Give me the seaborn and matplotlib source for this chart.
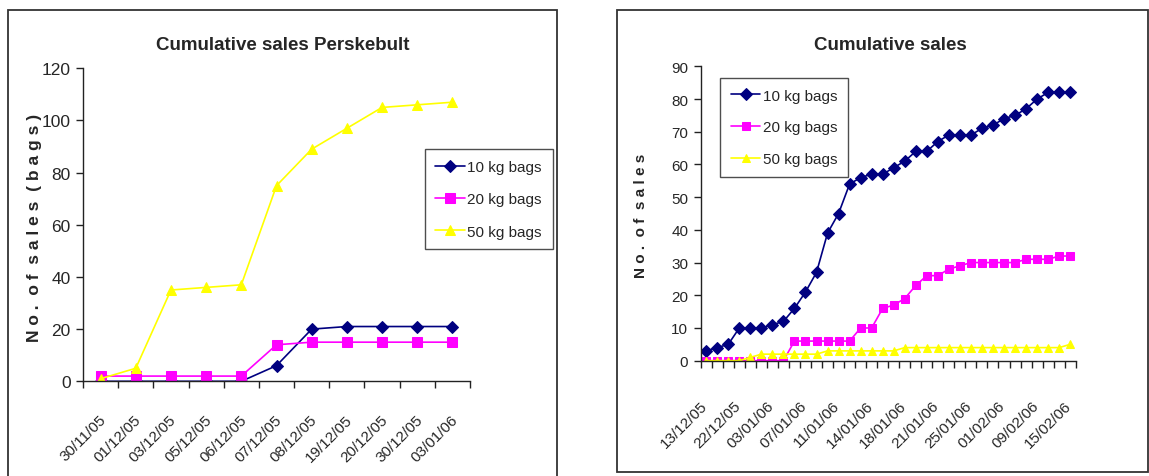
import numpy as np
import pandas as pd
import matplotlib
matplotlib.use("Agg")
import matplotlib.pyplot as plt
import matplotlib.transforms as mtransforms
from matplotlib.patches import Rectangle
import seaborn as sns

sns.set_style("white")
plt.rcParams['font.family'] = ['Liberation Sans Narrow', 'Liberation Sans', 'DejaVu Sans']

# left chart: Perskebult
dates_left = ["30/11/05", "01/12/05", "03/12/05", "05/12/05", "06/12/05", "07/12/05",
              "08/12/05", "19/12/05", "20/12/05", "30/12/05", "03/01/06"]
left_10kg = [0, 0, 0, 0, 0, 6, 20, 21, 21, 21, 21]
left_20kg = [2, 2, 2, 2, 2, 14, 15, 15, 15, 15, 15]
left_50kg = [1, 5, 35, 36, 37, 75, 89, 97, 105, 106, 107]

# right chart: 34 dates, only every third one labelled
right_labels = ["13/12/05", "22/12/05", "03/01/06", "07/01/06", "11/01/06", "14/01/06",
                "18/01/06", "21/01/06", "25/01/06", "01/02/06", "09/02/06", "15/02/06"]
right_10kg = [3, 4, 5, 10, 10, 10, 11, 12, 16, 21, 27, 39, 45, 54, 56, 57, 57,
              59, 61, 64, 64, 67, 69, 69, 69, 71, 72, 74, 75, 77, 80, 82, 82, 82]
right_20kg = [0, 0, 0, 0, 0, 0, 0, 0, 6, 6, 6, 6, 6, 6, 10, 10, 16,
              17, 19, 23, 26, 26, 28, 29, 30, 30, 30, 30, 30, 31, 31, 31, 32, 32]
right_50kg = [0, 0, 0, 0, 1, 2, 2, 2, 2, 2, 2, 3, 3, 3, 3, 3, 3,
              3, 4, 4, 4, 4, 4, 4, 4, 4, 4, 4, 4, 4, 4, 4, 4, 5]

series = ["10 kg bags", "20 kg bags", "50 kg bags"]
colors = {"10 kg bags": "#000080", "20 kg bags": "#FF00FF", "50 kg bags": "#FFFF00"}
markers = {"10 kg bags": "D", "20 kg bags": "s", "50 kg bags": "^"}


def long_frame(vals):
    rows = []
    for name, v in zip(series, vals):
        for i, y in enumerate(v):
            rows.append({"idx": i, "sales": y, "size": name})
    return pd.DataFrame(rows)


def draw(ax, df, n, msize, fs_y):
    sns.lineplot(data=df, x="idx", y="sales", hue="size", style="size",
                 hue_order=series, style_order=series, palette=colors,
                 markers=markers, dashes=False, markersize=msize, linewidth=1.2,
                 ax=ax, legend=False)
    for ln, name in zip(ax.lines, series):
        ln.set_markeredgecolor(colors[name])
        ln.set_markerfacecolor(colors[name])
    ax.set_xlim(-0.5, n - 0.5)
    ax.set_xlabel("")
    ax.set_ylabel("")
    for s in ["top", "right"]:
        ax.spines[s].set_visible(False)
    for s in ["left", "bottom"]:
        ax.spines[s].set_color("#222222")
        ax.spines[s].set_linewidth(1.0)
    ax.set_xticks(np.arange(-0.5, n, 1.0), minor=True)
    ax.tick_params(axis="x", which="minor", bottom=True, direction="out",
                   length=5, width=1, color="#222222")
    ax.tick_params(axis="y", which="major", left=True, direction="out", length=5,
                   width=1, color="#222222", labelsize=fs_y, pad=4)
    ax.grid(False)


fig = plt.figure(figsize=(11.49, 4.77), dpi=100)

# chart area frames
fig.patches.append(Rectangle((8 / 1149, -0.05), 549 / 1149, 0.05 + 466 / 477,
                             transform=fig.transFigure, fill=False,
                             edgecolor="#333333", linewidth=1.3, zorder=0))
fig.patches.append(Rectangle((617 / 1149, 4.3 / 477), 531 / 1149, 461.7 / 477,
                             transform=fig.transFigure, fill=False,
                             edgecolor="#333333", linewidth=1.3, zorder=0))

# left
ax1 = fig.add_axes([83 / 1149, (477 - 382.3) / 477, 387 / 1149, 313 / 477])
draw(ax1, long_frame([left_10kg, left_20kg, left_50kg]), len(dates_left), 6.5, 12.5)
ax1.set_ylim(0, 120)
ax1.set_yticks(np.arange(0, 121, 20))
ax1.set_xticks(np.arange(len(dates_left)))
ax1.set_xticklabels(dates_left, rotation=45, ha="right", va="top", fontsize=11)
ax1.tick_params(axis="x", which="major", length=0, pad=22)
off = mtransforms.ScaledTranslation(8 / 100, 0, fig.dpi_scale_trans)
for lab in ax1.get_xticklabels():
    lab.set_transform(lab.get_transform() + off)
ax1.legend(handles=ax1.lines[:3], labels=series, loc="upper left",
           bbox_to_anchor=(0.883, 0.741), borderaxespad=0, frameon=True,
           fancybox=False, edgecolor="#222222", fontsize=11, handlelength=1.95,
           handletextpad=0.15, labelspacing=1.2, borderpad=0.7)
ax1.get_legend().get_frame().set_linewidth(1.0)

fig.text(283 / 1149, 1 - 45 / 477, "Cumulative sales Perskebult", ha="center",
         va="center", fontsize=13.5, fontweight="bold")
fig.text(35 / 1149, 1 - 228 / 477, "N o .  o f  s a l e s  ( b a g s )", rotation=90,
         ha="center", va="center", fontsize=12.5, fontweight="bold",
         family=["Liberation Sans", "DejaVu Sans"])

# right
n_right = len(right_10kg)
ax2 = fig.add_axes([700.7 / 1149, (477 - 361.7) / 477, 375 / 1149, 294.4 / 477])
draw(ax2, long_frame([right_10kg, right_20kg, right_50kg]), n_right, 5.8, 11)
ax2.set_ylim(0, 90)
ax2.set_yticks(np.arange(0, 91, 10))
ax2.set_xticks(np.arange(0, n_right, 3))
ax2.set_xticklabels(right_labels, rotation=45, ha="right", va="top", fontsize=11)
ax2.tick_params(axis="x", which="major", length=0, pad=27)
off2 = mtransforms.ScaledTranslation(4 / 100, 0, fig.dpi_scale_trans)
for lab in ax2.get_xticklabels():
    lab.set_transform(lab.get_transform() + off2)
ax2.legend(handles=ax2.lines[:3], labels=series, loc="upper left",
           bbox_to_anchor=(0.0515, 0.96), borderaxespad=0, frameon=True,
           fancybox=False, edgecolor="#222222", fontsize=11, handlelength=1.95,
           handletextpad=0.15, labelspacing=1.15, borderpad=0.7)
ax2.get_legend().get_frame().set_linewidth(1.0)

fig.text(890.5 / 1149, 1 - 45 / 477, "Cumulative sales", ha="center",
         va="center", fontsize=13.5, fontweight="bold")
fig.text(640.7 / 1149, 1 - 216 / 477, "N o .  o f  s a l e s", rotation=90,
         ha="center", va="center", fontsize=11, fontweight="bold",
         family=["Liberation Sans", "DejaVu Sans"])

fig.savefig("out.png", dpi=100)
